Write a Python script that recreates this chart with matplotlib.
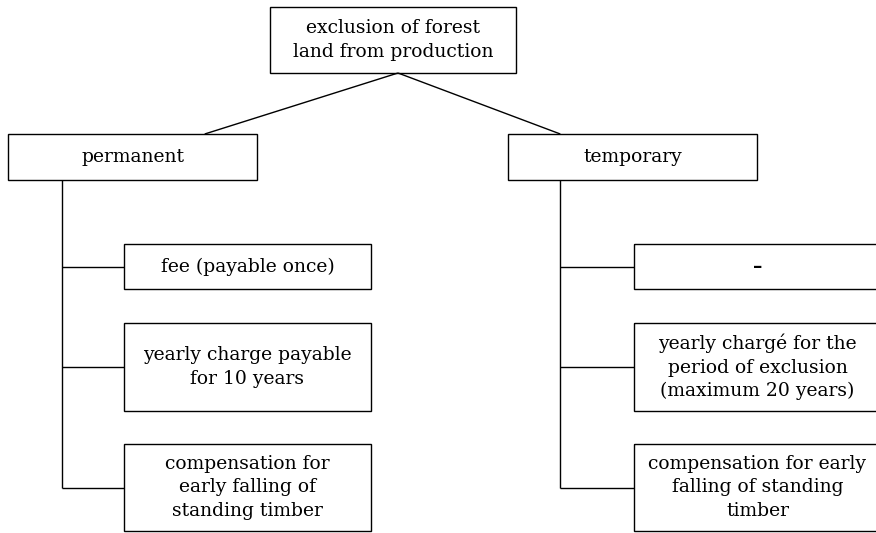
import matplotlib.pyplot as plt
from matplotlib.patches import Rectangle

# labels of the tree
root_label = "exclusion of forest\nland from production"
branch_labels = ["permanent", "temporary"]
leaf_labels = [
    ["fee (payable once)",
     "yearly charge payable\nfor 10 years",
     "compensation for\nearly falling of\nstanding timber"],
    ["\u2013",
     "yearly chargé for the\nperiod of exclusion\n(maximum 20 years)",
     "compensation for early\nfalling of standing\ntimber"],
]

W, H = 876, 533
fig = plt.figure(figsize=(W / 100, H / 100), dpi=100)
ax = fig.add_axes([0, 0, 1, 1])
ax.set_xlim(0, W)
ax.set_ylim(H, 0)
ax.axis("off")

LW = 1.0
FONT = dict(family="DejaVu Serif", fontsize=13.5, ha="center", va="center",
            linespacing=1.38, color="black")


def box(x0, y0, x1, y1, text, **kw):
    ax.add_patch(Rectangle((x0, y0), x1 - x0, y1 - y0, fill=False,
                           edgecolor="black", lw=LW))
    ax.text((x0 + x1) / 2, (y0 + y1) / 2, text, **{**FONT, **kw})


def line(xs, ys):
    ax.plot(xs, ys, color="black", lw=LW, solid_capstyle="butt")


# root
root = (270, 7, 516, 73)
box(*root, root_label)
root_x = 398

branch_x0 = [8, 508]
branch_w = 249
branch_y = (134, 180)
trunk_x = [62, 560]
leaf_x0 = [124, 634]
leaf_w = 247
leaf_rows = [(244, 289), (323, 411), (444, 531)]
leaf_links = [267, 367, 488]

for b, bx in enumerate(branch_x0):
    box(bx, branch_y[0], bx + branch_w, branch_y[1], branch_labels[b])
    tx = trunk_x[b]
    # diagonal from root
    attach = bx + branch_w * (0.79 if b == 0 else 0.21)
    line([root_x, attach], [root[3], branch_y[0]])
    # trunk
    line([tx, tx], [branch_y[1], leaf_links[-1]])
    for i, lab in enumerate(leaf_labels[b]):
        lx0 = leaf_x0[b]
        y0, y1 = leaf_rows[i]
        kw = {"fontweight": "bold"} if lab == "\u2013" else {}
        box(lx0, y0, lx0 + leaf_w, y1, lab, **kw)
        line([tx, lx0], [leaf_links[i], leaf_links[i]])

fig.savefig("out.png", dpi=100, facecolor="white")
